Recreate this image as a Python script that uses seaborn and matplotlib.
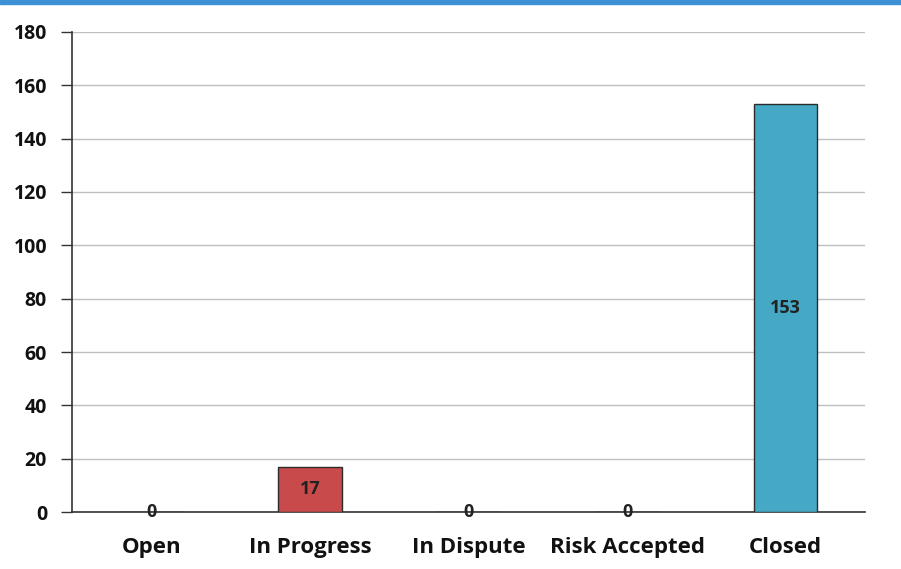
import numpy as np
import pandas as pd
import matplotlib
matplotlib.use("Agg")
import matplotlib.pyplot as plt
import seaborn as sns

categories = ["Open", "In Progress", "In Dispute", "Risk Accepted", "Closed"]
counts = [0, 17, 0, 0, 153]
bar_colors = ["#c94a4a", "#c94a4a", "#9bbb59", "#8064a2", "#45a9c6"]
y_ticks = [0, 20, 40, 60, 80, 100, 120, 140, 160, 180]

sns.set_style("white")
plt.rcParams["font.family"] = ["Open Sans", "DejaVu Sans"]

df = pd.DataFrame({"status": categories, "count": counts})

fig = plt.figure(figsize=(9.01, 5.69), dpi=100)
ax = fig.add_axes([0.080, 0.100, 0.880, 0.844])

sns.barplot(
    data=df, x="status", y="count", hue="status", palette=bar_colors,
    saturation=1, width=0.4, edgecolor="#2b2b2b", linewidth=1.0,
    legend=False, ax=ax, zorder=3,
)

for cont in ax.containers:
    ax.bar_label(cont, label_type="center", fontsize=13, fontweight="bold",
                 color="#222222", zorder=5)

ax.set_ylim(0, 180)
ax.set_xlim(-0.5, len(categories) - 0.5)
ax.set_yticks(y_ticks)
ax.yaxis.grid(True, color="#bfbfbf", linewidth=1.0, zorder=0)
ax.set_axisbelow(True)

# category boundary ticks on the x axis
ax.set_xticks(np.arange(-0.5, len(categories), 1.0), minor=True)
ax.tick_params(axis="x", which="major", length=0, pad=18, labelsize=16)
ax.tick_params(axis="x", which="minor", length=6, width=1.0, color="#333333", direction="out")
ax.tick_params(axis="y", which="major", length=8, width=1.0, color="#333333",
               direction="out", labelsize=14, pad=10, left=True)
for lbl in ax.get_xticklabels() + ax.get_yticklabels():
    lbl.set_fontweight("bold")
    lbl.set_color("#111111")

for side in ["top", "right"]:
    ax.spines[side].set_visible(False)
for side in ["left", "bottom"]:
    ax.spines[side].set_color("#333333")
    ax.spines[side].set_linewidth(1.2)

ax.set_xlabel("")
ax.set_ylabel("")

# blue frame line along the top of the image
fig.patches.append(plt.Rectangle((0, 0.993), 1, 0.007, transform=fig.transFigure,
                                 color="#3d8fd6", zorder=10))

fig.savefig("out.png", dpi=100)
